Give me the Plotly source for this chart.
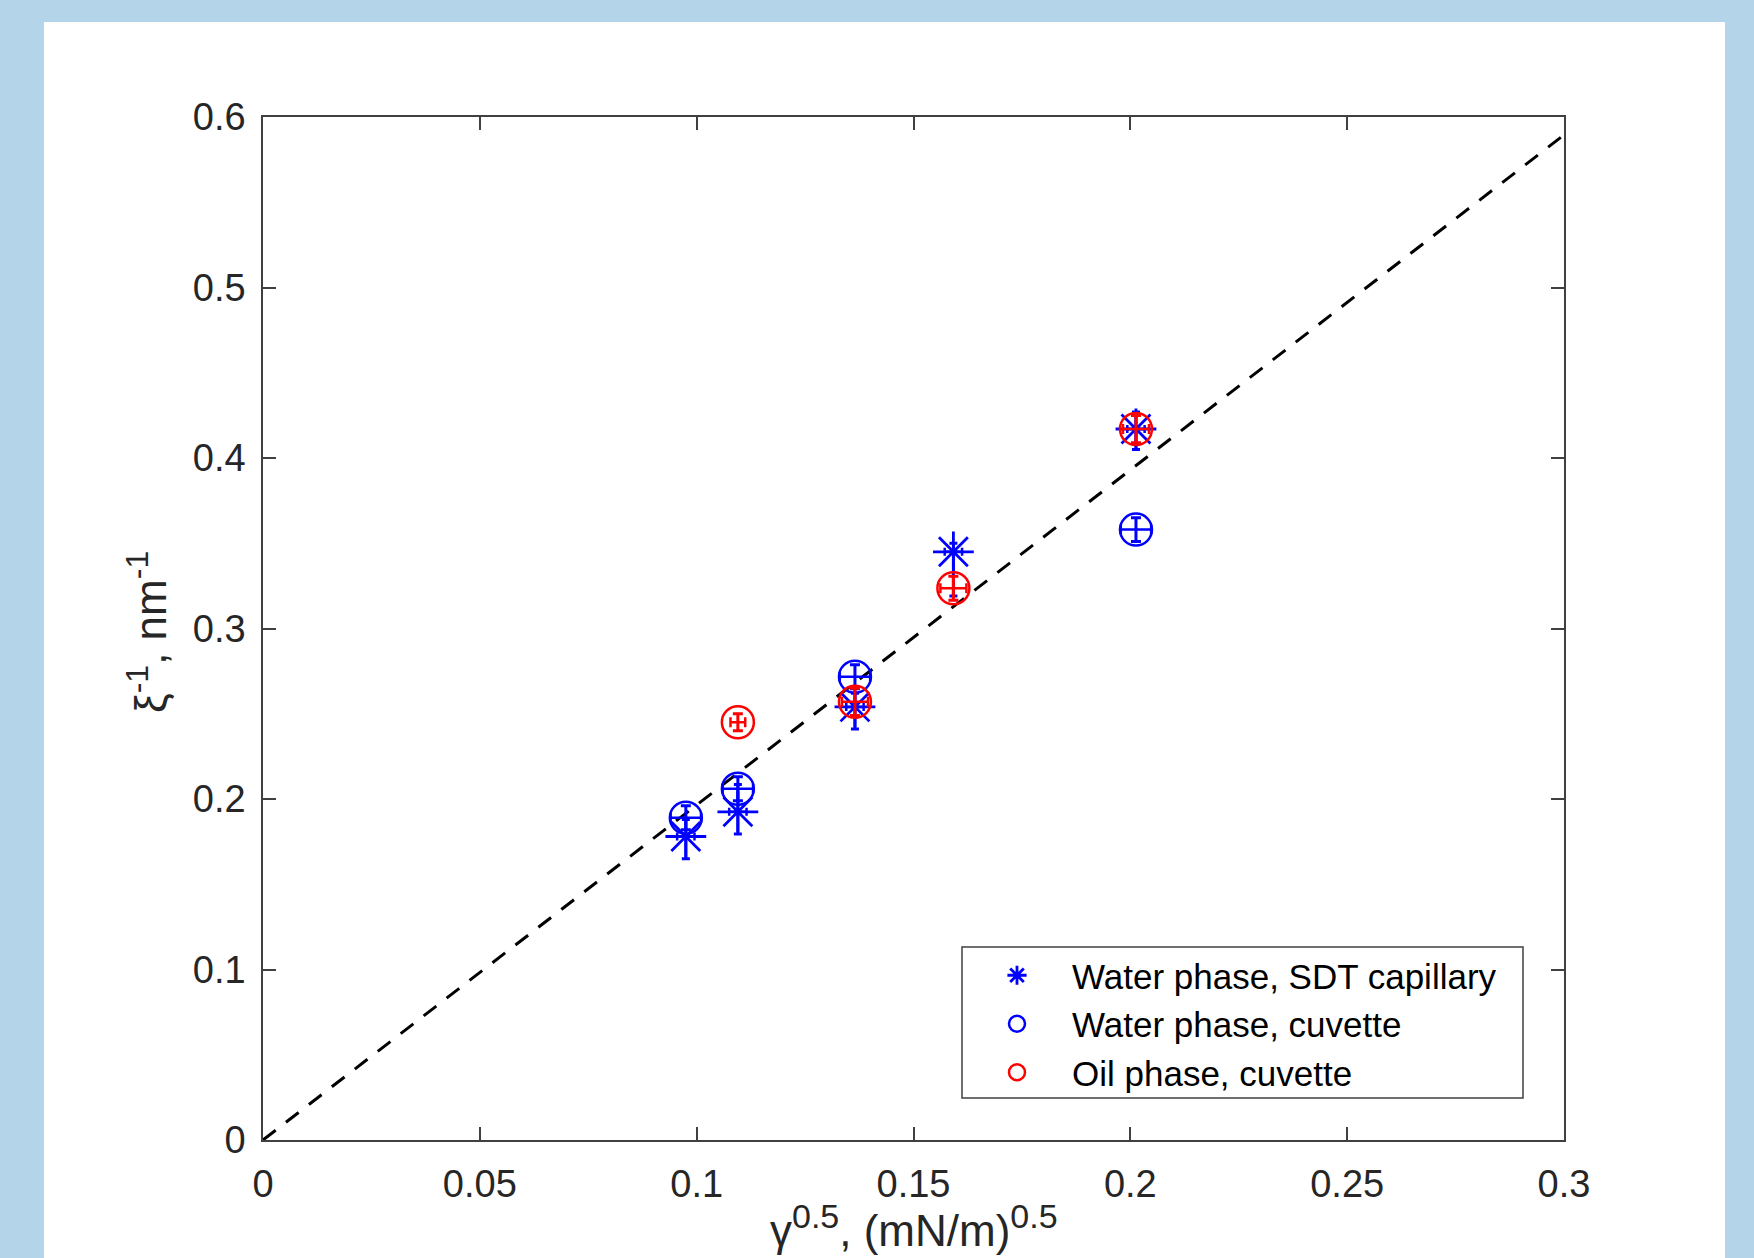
import plotly.graph_objects as go

# ---------------- data ----------------
sdt_x = [0.0975, 0.1095, 0.1365, 0.1592, 0.2013]
sdt_y = [0.178, 0.1925, 0.254, 0.345, 0.417]
sdt_xerr = [0.002, 0.002, 0.002, 0.002, 0.002]
sdt_yerr_plus = [0.010, 0.016, 0.008, 0.005, 0.010]
sdt_yerr_minus = [0.013, 0.013, 0.013, 0.026, 0.012]

wc_x = [0.0975, 0.1095, 0.1365, 0.2013]
wc_y = [0.189, 0.206, 0.2717, 0.358]
wc_xerr = [0.0035, 0.0035, 0.0035, 0.0035]
wc_yerr = [0.007, 0.007, 0.007, 0.007]

oil_x = [0.1095, 0.1365, 0.1592, 0.2013]
oil_y = [0.245, 0.257, 0.3236, 0.417]
oil_xerr = [0.0017, 0.003, 0.003, 0.003]
oil_yerr = [0.005, 0.008, 0.007, 0.008]

fit_x = [0.0, 0.3]
fit_y = [0.0, 0.5895]

x_ticks = [0, 0.05, 0.1, 0.15, 0.2, 0.25, 0.3]
x_ticktext = ["0", "0.05", "0.1", "0.15", "0.2", "0.25", "0.3"]
y_ticks = [0, 0.1, 0.2, 0.3, 0.4, 0.5, 0.6]
y_ticktext = ["0", "0.1", "0.2", "0.3", "0.4", "0.5", "0.6"]

names = ["Water phase, SDT capillary", "Water phase, cuvette", "Oil phase, cuvette"]

# ---------------- layout geometry (pixels) ----------------
W, H = 1754, 1258
L, R, T, B = 263, 1564, 117, 1140
PW, PH = R - L, B - T

def px(xp):
    return (xp - L) / PW

def py(yp):
    return (B - yp) / PH

FONT = "Liberation Sans, Arial, sans-serif"
BLUE = "#0000FF"
RED = "#FF0000"
FRAME_BG = "#B4D4EA"

fig = go.Figure()

fig.add_trace(go.Scatter(
    x=fit_x, y=fit_y, mode="lines", showlegend=False,
    line=dict(color="black", width=3, dash="16px,13px"), hoverinfo="skip"))

fig.add_trace(go.Scatter(
    x=sdt_x, y=sdt_y, mode="markers", name=names[0],
    marker=dict(symbol="asterisk-open", size=34, color=BLUE,
                line=dict(color=BLUE, width=2.8)),
    error_x=dict(type="data", array=sdt_xerr, color=BLUE, thickness=2.5, width=4),
    error_y=dict(type="data", array=sdt_yerr_plus, arrayminus=sdt_yerr_minus,
                 symmetric=False, color=BLUE, thickness=3, width=4)))

fig.add_trace(go.Scatter(
    x=wc_x, y=wc_y, mode="markers", name=names[1],
    marker=dict(symbol="circle-open", size=32, color=BLUE,
                line=dict(color=BLUE, width=2.5)),
    error_x=dict(type="data", array=wc_xerr, color=BLUE, thickness=2.5, width=5),
    error_y=dict(type="data", array=wc_yerr, color=BLUE, thickness=3, width=5)))

fig.add_trace(go.Scatter(
    x=oil_x, y=oil_y, mode="markers", name=names[2],
    marker=dict(symbol="circle-open", size=32, color=RED,
                line=dict(color=RED, width=2.5)),
    error_x=dict(type="data", array=oil_xerr, color=RED, thickness=2.5, width=5),
    error_y=dict(type="data", array=oil_yerr, color=RED, thickness=3, width=5)))

axis_common = dict(
    showline=True, linecolor="#404040", linewidth=1.5, mirror="ticks",
    ticks="inside", ticklen=13, tickwidth=1.5, tickcolor="#404040",
    showgrid=False, zeroline=False,
    tickfont=dict(family=FONT, size=38, color="#262626"),
)

fig.update_layout(
    width=W, height=H,
    margin=dict(l=L, r=W - R, t=T, b=H - B, pad=0),
    paper_bgcolor=FRAME_BG,
    plot_bgcolor="white",
    xaxis=dict(range=[0, 0.3], tickvals=x_ticks, ticktext=x_ticktext,
               ticklabelstandoff=10, **axis_common),
    yaxis=dict(range=[0, 0.6], tickvals=y_ticks, ticktext=y_ticktext,
               ticklabelstandoff=8, **axis_common),
    legend=dict(
        x=px(962), xanchor="left", y=py(946), yanchor="top",
        bgcolor="rgba(0,0,0,0)", borderwidth=0,
        font=dict(family=FONT, size=35, color="black"),
        itemwidth=100, tracegroupgap=0,
    ),
    shapes=[
        dict(type="rect", xref="paper", yref="paper", layer="below",
             x0=px(44), x1=px(1725), y0=py(1300), y1=py(22),
             fillcolor="white", line=dict(width=0)),
        # legend frame
        dict(type="rect", xref="paper", yref="paper", layer="above",
             x0=px(962), x1=px(1523), y0=py(1098), y1=py(947),
             fillcolor="white", line=dict(color="#404040", width=1.5)),
    ],
    annotations=[
        dict(xref="paper", yref="paper", x=px(914), y=py(1257),
             xanchor="center", yanchor="bottom", showarrow=False,
             text='γ<sup><span style="font-size:34px">0.5</span></sup>, (mN/m)<sup><span style="font-size:34px">0.5</span></sup>',
             font=dict(family=FONT, size=44, color="#262626")),
        dict(xref="paper", yref="paper", x=px(147), y=py(632),
             xanchor="center", yanchor="middle", showarrow=False, textangle=-90,
             text='ξ<sup><span style="font-size:32px">-1</span></sup>, nm<sup><span style="font-size:32px">-1</span></sup>',
             font=dict(family=FONT, size=44, color="#262626")),
    ],
)

fig.write_html(
    "out.html",
    config={"displayModeBar": False},
    post_script="document.body.style.margin='0px';document.body.style.background='%s';" % FRAME_BG,
)
